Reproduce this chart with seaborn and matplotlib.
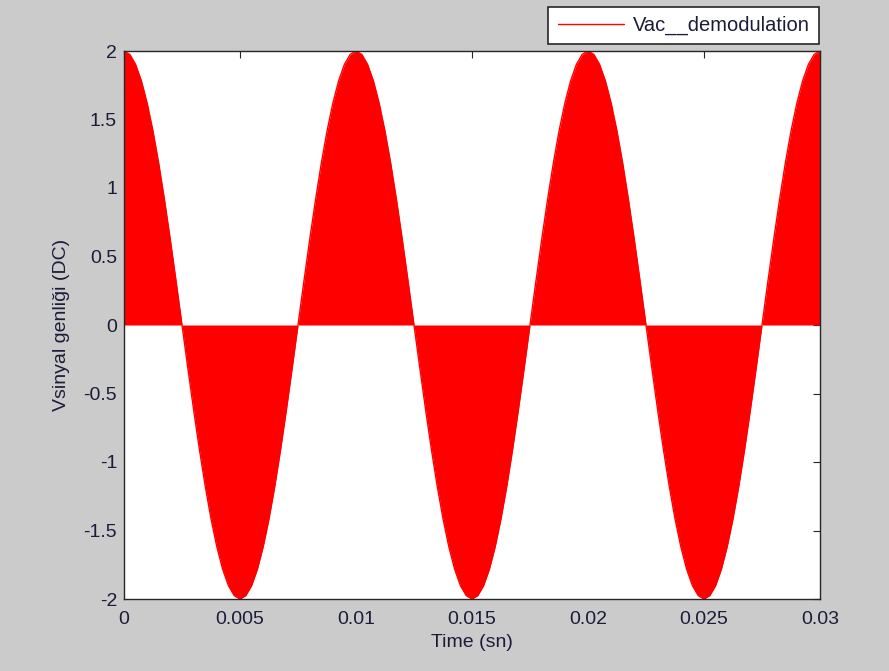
import matplotlib
matplotlib.use("Agg")
import matplotlib.pyplot as plt
import seaborn as sns
import pandas as pd

time_s = [i * 0.00025 for i in range(121)]
quarter = [2.0, 1.975, 1.902, 1.782, 1.618, 1.414, 1.176, 0.908, 0.618, 0.313]
half_period = quarter + [0.0] + [-v for v in quarter[::-1][:-1]] \
    + [-2.0] + [-v for v in quarter[1:]] + [0.0] + quarter[::-1][:-1]
vsinyal = (half_period * 3) + [2.0]

x_ticks = [0, 0.005, 0.01, 0.015, 0.02, 0.025, 0.03]
x_labels = ["0", "0.005", "0.01", "0.015", "0.02", "0.025", "0.03"]
y_ticks = [-2, -1.5, -1, -0.5, 0, 0.5, 1, 1.5, 2]
y_labels = ["-2", "-1.5", "-1", "-0.5", "0", "0.5", "1", "1.5", "2"]

df = pd.DataFrame({"t": time_s, "v": vsinyal})

sns.set_style("white")
plt.rcParams['font.family'] = ['Liberation Sans', 'DejaVu Sans']

TXT = "#1c1c3a"
FS = 14

fig = plt.figure(figsize=(8.89, 6.71), dpi=100, facecolor="#cbcbcb")
ax = fig.add_axes([124/889, 1-599/671, (820-124)/889, (599-51)/671])
ax.set_facecolor("white")

ax.fill_between(df["t"], 0, df["v"], color="#ff0000", linewidth=0)
sns.lineplot(data=df, x="t", y="v", ax=ax, color="#ff0000", linewidth=1,
             label="Vac__demodulation", legend=False)

ax.set_xlim(0, 0.03)
ax.set_ylim(-2, 2)
ax.set_xticks(x_ticks)
ax.set_xticklabels(x_labels)
ax.set_yticks(y_ticks)
ax.set_yticklabels(y_labels)
ax.tick_params(direction="in", length=5, width=0.8, top=True, right=True,
               labelsize=FS, colors="#262626", labelcolor=TXT)
ax.tick_params(axis="x", pad=9)
ax.tick_params(axis="y", pad=5)
for s in ax.spines.values():
    s.set_visible(True)
    s.set_color("#262626")
    s.set_linewidth(1)

ax.set_xlabel("Time (sn)", fontsize=FS, color=TXT, labelpad=4)
ax.set_ylabel("Vsinyal genliği (DC)", fontsize=FS, color=TXT, labelpad=10)

leg = ax.legend(loc="upper right", bbox_to_anchor=(1.0 - 1/696, 1.0 + 44/548),
                frameon=True, fancybox=False, edgecolor="#262626",
                facecolor="white", framealpha=1.0,
                fontsize=FS + 0.5, handlelength=3.3, handletextpad=0.45,
                borderpad=0.45, borderaxespad=0.0)
leg.get_frame().set_linewidth(1.2)
for t in leg.get_texts():
    t.set_color(TXT)

fig.savefig("out.png", dpi=100, facecolor=fig.get_facecolor())
